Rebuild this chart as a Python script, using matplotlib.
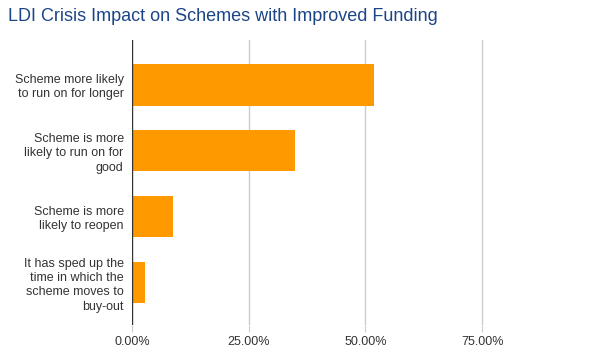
import matplotlib
matplotlib.use("Agg")
import matplotlib.pyplot as plt
from matplotlib.ticker import FuncFormatter

categories = [
    "Scheme more likely\nto run on for longer",
    "Scheme is more\nlikely to run on for\ngood",
    "Scheme is more\nlikely to reopen",
    "It has sped up the\ntime in which the\nscheme moves to\nbuy-out",
]
values = [51.8, 34.9, 8.8, 2.8]
xticks = [0, 25, 50, 75]

plt.rcParams['font.family'] = ['Liberation Sans', 'DejaVu Sans']
fig = plt.figure(figsize=(6, 3.59), dpi=100)
ax = fig.add_axes([0.22, 0.095, 0.778, 0.794])

ypos = list(range(len(categories)))
ax.barh(ypos, values, height=0.63, color="#ff9900", zorder=3)
ax.set_ylim(3.64, -0.68)
ax.set_xlim(0, 100)
ax.set_yticks(ypos)
ax.set_yticklabels(categories, fontsize=9, color="#333333", linespacing=1.25)
ax.set_xticks(xticks)
ax.xaxis.set_major_formatter(FuncFormatter(lambda v, p: f"{v:.2f}%"))
ax.tick_params(axis='x', labelsize=9, labelcolor="#333333", length=5, color="#cccccc", pad=3)
ax.tick_params(axis='y', length=0, pad=6)
for x in xticks[1:]:
    ax.axvline(x, color="#cccccc", lw=1, zorder=1)
ax.axvline(0, color="#333333", lw=1, zorder=4)
for s in ax.spines.values():
    s.set_visible(False)

fig.text(0.013, 0.953, "LDI Crisis Impact on Schemes with Improved Funding",
         fontsize=13, color="#1c4587", ha="left", va="center")
fig.savefig("out.png", dpi=100)
